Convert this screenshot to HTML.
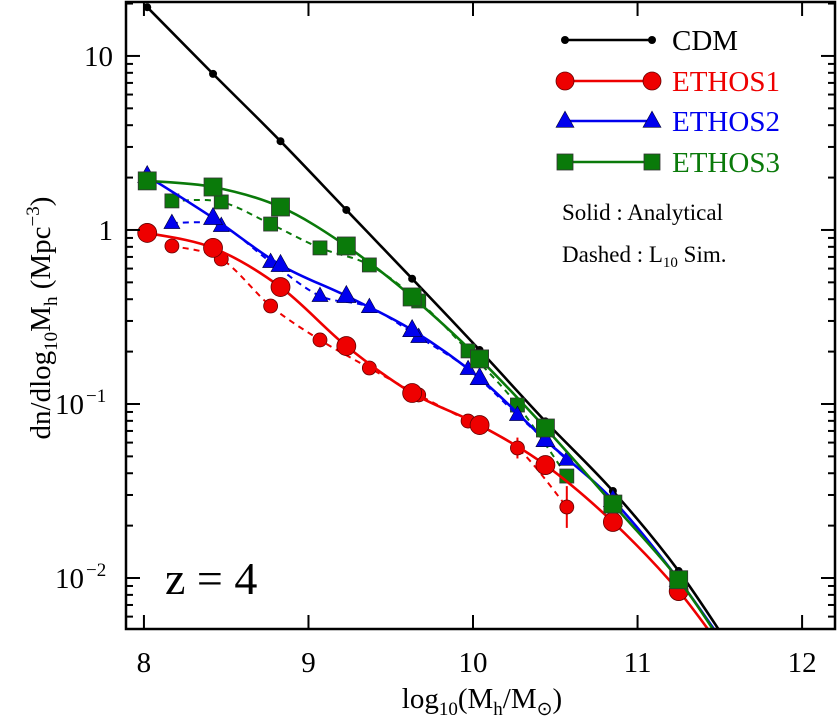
<!DOCTYPE html>
<html><head><meta charset="utf-8"><style>
body{margin:0;background:#fff;}
svg{display:block;font-family:"Liberation Serif",serif;}
</style></head><body>
<svg id="chart" width="838" height="722" viewBox="0 0 838 722" xmlns="http://www.w3.org/2000/svg"></svg>
<script>
const solidX = [8.02, 8.42, 8.83, 9.23, 9.63, 10.04, 10.44, 10.85, 11.25];
const dashedX = [8.17, 8.47, 8.77, 9.07, 9.37, 9.67, 9.97, 10.27, 10.57];
const cdmLog = [1.28, 0.897, 0.51, 0.115, -0.28, -0.69, -1.10, -1.50, -1.96];
const e1SolidLog = [-0.017, -0.103, -0.328, -0.667, -0.937, -1.121, -1.351, -1.678, -2.075];
const e1DashedLog = [-0.092, -0.167, -0.437, -0.632, -0.793, -0.948, -1.098, -1.253, -1.592];
const e1DashedErr = [0, 0, 0, 0, 0, 0.02, 0.03, 0.06, 0.12];
const e2SolidLog = [0.310, 0.069, -0.201, -0.379, -0.575, -0.851, -1.207, -1.552, -2.01];
const e2DashedLog = [0.04, 0.023, -0.184, -0.379, -0.443, -0.615, -0.799, -1.063, -1.32];
const e3SolidLog = [0.282, 0.247, 0.132, -0.092, -0.385, -0.741, -1.138, -1.575, -2.01];
const e3DashedLog = [0.167, 0.161, 0.034, -0.103, -0.201, -0.408, -0.695, -1.006, -1.414];
const tailX = 11.6;
const tailLog = {cdm: -2.45, e1: -2.52, e2: -2.48, e3: -2.50};
const xTicks = [8, 9, 10, 11, 12];
const yTickLabels = [["10",1],["1",0],["10","-1"],["10","-2"]];

const NS="http://www.w3.org/2000/svg";
const svg=document.getElementById('chart');
const L=126,R=835,T=2,B=629;
const xmin=7.891,xmax=12.2,ymax=1.31,ymin=-2.293;
const sx=v=>L+(v-xmin)/(xmax-xmin)*(R-L);
const sy=v=>T+(ymax-v)/(ymax-ymin)*(B-T);
function el(tag,attrs,parent){const e=document.createElementNS(NS,tag);for(const k in attrs)e.setAttribute(k,attrs[k]);(parent||svg).appendChild(e);return e;}

const defs=el('defs',{});
const cp=el('clipPath',{id:'clip'},defs);
el('rect',{x:L,y:T,width:R-L,height:B-T},cp);

function smoothPath(pts){
  let d=`M${pts[0][0]},${pts[0][1]}`;
  for(let i=0;i<pts.length-1;i++){
    const p0=pts[i-1]||pts[i],p1=pts[i],p2=pts[i+1],p3=pts[i+2]||p2;
    const c1=[p1[0]+(p2[0]-p0[0])/6,p1[1]+(p2[1]-p0[1])/6];
    const c2=[p2[0]-(p3[0]-p1[0])/6,p2[1]-(p3[1]-p1[1])/6];
    d+=` C${c1[0]},${c1[1]} ${c2[0]},${c2[1]} ${p2[0]},${p2[1]}`;
  }
  return d;
}
const plot=el('g',{'clip-path':'url(#clip)'});



function marker(g,shape,x,y,s,color){
  let m;
  if(shape==='circle') m=el('circle',{cx:x,cy:y,r:s,fill:color,stroke:'#600','stroke-width':0.8},g);
  else if(shape==='dot') m=el('circle',{cx:x,cy:y,r:s,fill:color},g);
  else if(shape==='square') m=el('rect',{x:x-s,y:y-s,width:2*s,height:2*s,fill:color,stroke:'#333','stroke-width':0.8},g);
  else m=el('polygon',{points:`${x},${y-s*1.1} ${x-s},${y+s*0.7} ${x+s},${y+s*0.7}`,fill:color,stroke:'#003','stroke-width':0.6},g);
  
  
}
function series(name,xs,ys,color,dash,shape,size,tail,err){
  const g=el('g',{},plot);
  
  
  const pts=xs.map((x,i)=>[sx(x),sy(ys[i])]);
  if(tail!==undefined) pts.push([sx(tailX),sy(tail)]);
  const p=el('path',{d:smoothPath(pts),fill:'none',stroke:color,'stroke-width':dash?2:2.6,'stroke-dasharray':dash?'6,5':'none'},g);
  
  
  if(err) xs.forEach((x,i)=>{ if(err[i]>0){
    const eb=el('line',{x1:sx(x),x2:sx(x),y1:sy(ys[i]+err[i]),y2:sy(ys[i]-err[i]),stroke:color,'stroke-width':2},g);
    
    
  }});
  xs.forEach((x,i)=>marker(g,shape,sx(x),sy(ys[i]),size,color));
}
series('cdm-series',solidX,cdmLog,'#000',false,'dot',4,tailLog.cdm);
series('ethos3-sim',dashedX,e3DashedLog,'#0a7a0a',true,'square',7);
series('ethos2-sim',dashedX,e2DashedLog,'#0000ee',true,'tri',8);
series('ethos1-sim',dashedX,e1DashedLog,'#ee0000',true,'circle',7,undefined,e1DashedErr);
series('ethos1-analytical',solidX,e1SolidLog,'#ee0000',false,'circle',9.5,tailLog.e1);
series('ethos2-analytical',solidX,e2SolidLog,'#0000ee',false,'tri',9.5,tailLog.e2);
series('ethos3-analytical',solidX,e3SolidLog,'#0a7a0a',false,'square',9,tailLog.e3);

// frame
const fr=el('rect',{x:L,y:T,width:R-L,height:B-T,fill:'none',stroke:'#000','stroke-width':2.5});


// x ticks
xTicks.forEach(v=>{
  const x=sx(v);
  el('line',{x1:x,x2:x,y1:B,y2:B-14,stroke:'#000','stroke-width':2});
  el('line',{x1:x,x2:x,y1:T,y2:T+14,stroke:'#000','stroke-width':2});
  const t=el('text',{x:x,y:672,'font-size':29,'text-anchor':'middle'});
  t.textContent=v;
  
  
});
// y ticks
for(let d=-3;d<=1;d++){
  for(let k=1;k<10;k++){
    const v=d+Math.log10(k); if(v<ymin||v>ymax) continue;
    const y=sy(v), len=k===1?14:7;
    el('line',{x1:L,x2:L+len,y1:y,y2:y,stroke:'#000','stroke-width':2});
    el('line',{x1:R,x2:R-len,y1:y,y2:y,stroke:'#000','stroke-width':2});
  }
}
yTickLabels.forEach(([b,e])=>{
  const v=Number(e), y=sy(v);
  const t=el('text',{x:113,y:y+10,'font-size':29,'text-anchor':'end'});
  
  
  if(v===1||v===0){t.textContent=b;}
  else{t.setAttribute('x',84);t.setAttribute('text-anchor','end');t.textContent=b;
    const s=el('text',{x:86,y:y-2,'font-size':19});s.textContent='−'+String(e).slice(1);
    
    }
});
// axis titles
const xt=el('text',{x:482,y:708,'font-size':29,'text-anchor':'middle'});


xt.innerHTML='log<tspan font-size="19" dy="7">10</tspan><tspan dy="-7">(M</tspan><tspan font-size="19" dy="7">h</tspan><tspan dy="-7">/M</tspan><tspan font-size="19" dy="7">⊙</tspan><tspan dy="-7">)</tspan>';
const yt=el('text',{x:0,y:0,'font-size':29,'text-anchor':'middle',transform:'translate(50,318) rotate(-90)'});


yt.innerHTML='dn/dlog<tspan font-size="19" dy="7">10</tspan><tspan dy="-7">M</tspan><tspan font-size="19" dy="7">h</tspan><tspan dy="-7"> (Mpc</tspan><tspan font-size="19" dy="-11">−3</tspan><tspan dy="11">)</tspan>';
// z label
const z=el('text',{x:165,y:594,'font-size':46});
z.textContent='z = 4';


// legend
const lg=el('g',{});


const items=[['CDM','#000','dot',4,40],['ETHOS1','#ee0000','circle',9,81],['ETHOS2','#0000ee','tri',9,121],['ETHOS3','#0a7a0a','square',8,162]];
items.forEach(([n,c,s,sz,y])=>{
  const g=el('g',{},lg);
  
  
  el('line',{x1:565,x2:652,y1:y,y2:y,stroke:c,'stroke-width':2.6},g);
  marker(g,s,565,y,sz,c);marker(g,s,652,y,sz,c);
  const t=el('text',{x:672,y:y+10,'font-size':29,fill:c},g);t.textContent=n;
});
const s1=el('text',{x:562,y:220,'font-size':23},lg);s1.textContent='Solid : Analytical';
const s2=el('text',{x:562,y:262,'font-size':23},lg);
s2.innerHTML='Dashed : L<tspan font-size="15" dy="5">10</tspan><tspan dy="-5"> Sim.</tspan>';
</script>
</body></html>
